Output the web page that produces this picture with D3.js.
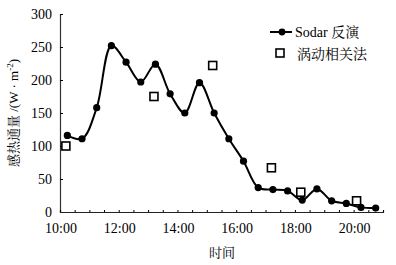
<!DOCTYPE html>
<html>
<head>
<meta charset="utf-8">
<script src="https://cdn.jsdelivr.net/npm/d3@7"></script>
<style>
  body { margin: 0; background: #fff; }
</style>
</head>
<body>
<div id="chart"></div>
<script>
// Sodar retrieval, every 30 min from 10:15
const sodarTimes = [10.25, 10.75, 11.25, 11.75, 12.25, 12.75, 13.25, 13.75, 14.25, 14.75, 15.25,
  15.75, 16.25, 16.75, 17.25, 17.75, 18.25, 18.75, 19.25, 19.75, 20.25, 20.75];
const sodarValues = [116, 111, 158, 252, 227, 197, 224, 179, 150, 196, 150,
  111, 77, 37, 34, 32, 18, 35, 17, 13, 7, 6];

// eddy covariance
const eddyTimes = [10.2, 13.2, 15.2, 17.2, 18.2, 20.1];
const eddyValues = [100, 175, 222, 67, 30, 17];

const yTicks = [0, 50, 100, 150, 200, 250, 300];
const xTicks = [10, 12, 14, 16, 18, 20];
const legendLabels = ["Sodar 反演", "涡动相关法"];

const width = 396, height = 265;
const serif = "Liberation Serif, Noto Serif CJK SC, Noto Sans CJK SC, serif";

const svg = d3.select("#chart").append("svg")
  .attr("width", width)
  .attr("height", height);

const x = d3.scaleLinear().domain([10, 21]).range([60, 383]);
const y = d3.scaleLinear().domain([0, 300]).range([212, 14]);

const fmt = h => d3.format("02")(Math.floor(h)) + ":00";

// y axis
const yAxis = svg.append("g")
  .attr("transform", `translate(${x(10)},0)`)
  .call(d3.axisLeft(y).tickValues(yTicks).tickSize(-3).tickPadding(8));
yAxis.attr("font-family", serif).attr("font-size", 14);
yAxis.select(".domain").attr("stroke", "#333").attr("stroke-width", 1.2);
yAxis.selectAll("text").attr("font-family", serif).attr("fill", "#000");

// x axis
const xAxis = svg.append("g")
  .attr("transform", `translate(0,${y(0)})`)
  .call(d3.axisBottom(x).tickValues(d3.range(10, 21.01, 0.5)).tickSize(-2).tickFormat(""));
xAxis.select(".domain").attr("stroke", "#222").attr("stroke-width", 1.2);

svg.append("g").selectAll("text")
  .data(xTicks)
  .join("text")
  .attr("x", d => x(d) + 1)
  .attr("y", y(0) + 21)
  .attr("text-anchor", "middle")
  .attr("font-size", 14)
  .attr("font-family", serif)
  .text(fmt);

svg.append("text")
  .attr("x", 222)
  .attr("y", 257)
  .attr("text-anchor", "middle")
  .attr("font-size", 13)
  .attr("font-family", serif)
  .text("时间");

svg.append("text")
  .attr("transform", `translate(18,${113}) rotate(-90)`)
  .attr("text-anchor", "middle")
  .attr("font-size", 13)
  .attr("font-family", serif)
  .html('感热通量 /(W · m<tspan dy="-5" font-size="9">-2</tspan><tspan dy="5">)</tspan>');

// sodar line
const sodar = sodarTimes.map((t, i) => ({t, v: sodarValues[i]}));
const line = d3.line()
  .x(d => x(d.t))
  .y(d => y(d.v))
  .curve(d3.curveCatmullRom.alpha(0.5));

svg.append("path")
  .datum(sodar)
  .attr("fill", "none")
  .attr("stroke", "#000")
  .attr("stroke-width", 2)
  .attr("d", line);

svg.append("g").selectAll("circle")
  .data(sodar)
  .join("circle")
  .attr("cx", d => x(d.t))
  .attr("cy", d => y(d.v))
  .attr("r", 3.6)
  .attr("fill", "#000");

// eddy squares
const eddy = eddyTimes.map((t, i) => ({t, v: eddyValues[i]}));
svg.append("g").selectAll("rect")
  .data(eddy)
  .join("rect")
  .attr("x", d => x(d.t) - 4)
  .attr("y", d => y(d.v) - 4)
  .attr("width", 8)
  .attr("height", 8)
  .attr("fill", "#fff")
  .attr("stroke", "#000")
  .attr("stroke-width", 1.6);

// legend
const lg = svg.append("g");
lg.append("line").attr("x1", 270).attr("x2", 292).attr("y1", 32).attr("y2", 32)
  .attr("stroke", "#000").attr("stroke-width", 2);
lg.append("circle").attr("cx", 282).attr("cy", 32).attr("r", 3.4).attr("fill", "#000");
lg.append("rect").attr("x", 276).attr("y", 49).attr("width", 8).attr("height", 8)
  .attr("fill", "#fff").attr("stroke", "#000").attr("stroke-width", 1.6);
lg.selectAll("text.lab")
  .data(legendLabels)
  .join("text")
  .attr("class", "lab")
  .attr("x", (d, i) => i === 0 ? 295 : 297)
  .attr("y", (d, i) => i === 0 ? 37 : 59)
  .attr("font-size", 14)
  .attr("font-family", serif)
  .text(d => d);
</script>
</body>
</html>
